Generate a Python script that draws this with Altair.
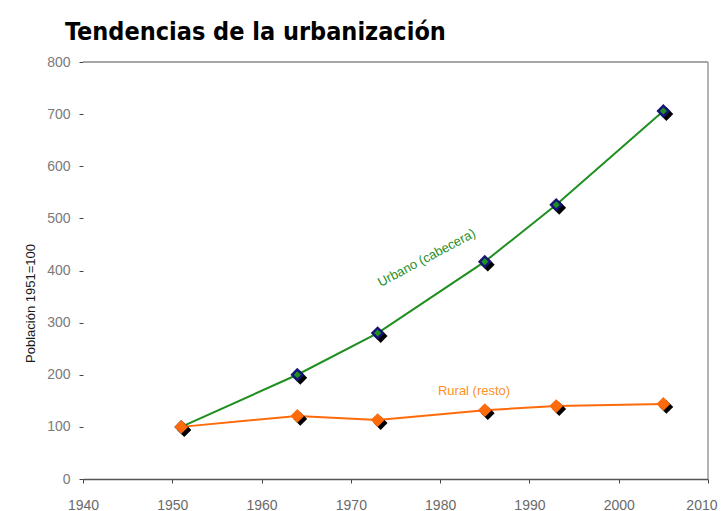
import altair as alt
import pandas as pd

years = [1951, 1964, 1973, 1985, 1993, 2005]
urbano = [100, 200, 280, 417, 526, 706]
rural = [100, 121, 113, 132, 140, 144]

x_ticks = [1940, 1950, 1960, 1970, 1980, 1990, 2000, 2010]
y_ticks = [0, 100, 200, 300, 400, 500, 600, 700, 800]

df_u = pd.DataFrame({"year": years, "value": urbano})
df_r = pd.DataFrame({"year": years, "value": rural})

labels = pd.DataFrame({
    "year": [1978.5, 1983.8],
    "value": [424, 169],
    "text": ["Urbano (cabecera)", "Rural (resto)"],
})

GREEN = "#1f8f1f"
ORANGE = "#ff6a0a"
LABEL_ORANGE = "#ff9020"
NAVY = "#141478"
W, H = 625, 417

x = alt.X("year:Q", scale=alt.Scale(domain=[1940, 2010], nice=False),
          axis=alt.Axis(values=x_ticks, format="d", title=None, grid=False,
                        tickSize=4, labelPadding=15, labelFontSize=14,
                        labelColor="#6a6a6a", domainColor="#555555",
                        domainWidth=1.5, tickColor="#444444",
                        labelAlign=alt.condition("datum.value == 2010",
                                                 alt.value("right"), alt.value("center")),
                        labelOffset=alt.condition("datum.value == 2010",
                                                  alt.value(9), alt.value(0))))
y = alt.Y("value:Q", scale=alt.Scale(domain=[0, 800], nice=False),
          axis=alt.Axis(values=y_ticks, title="Población 1951=100", grid=False,
                        domain=False, tickSize=4, labelPadding=9, labelFontSize=14,
                        labelColor="#7a7a7a", tickColor="#444444",
                        titleFontSize=13, titleFontWeight="normal",
                        titleColor="#1a1a1a", titlePadding=9, titleY=241))

base_u = alt.Chart(df_u)
base_r = alt.Chart(df_r)

line_u = base_u.mark_line(color=GREEN, strokeWidth=2).encode(x=x, y=y)
line_r = base_r.mark_line(color=ORANGE, strokeWidth=2).encode(x=x, y=y)

shadow_u = base_u.mark_point(shape="diamond", filled=True, color="black", size=190,
                             xOffset=3, yOffset=3, opacity=1).encode(x=x, y=y)
shadow_r = base_r.mark_point(shape="diamond", filled=True, color="black", size=190,
                             xOffset=3, yOffset=3, opacity=1).encode(x=x, y=y)

pt_u = base_u.mark_point(shape="diamond", filled=True, color=NAVY, size=190,
                         opacity=1).encode(x=x, y=y)
pt_u_in = base_u.mark_point(shape="diamond", filled=True, color=GREEN, size=50,
                            opacity=1).encode(x=x, y=y)
pt_r = base_r.mark_point(shape="diamond", filled=True, color=ORANGE, size=190,
                         opacity=1).encode(x=x, y=y)

txt_u = alt.Chart(labels.iloc[[0]]).mark_text(color=GREEN, fontSize=13, angle=332,
                                               font="Liberation Sans").encode(
    x=x, y=y, text="text:N")
txt_r = alt.Chart(labels.iloc[[1]]).mark_text(color=LABEL_ORANGE, fontSize=13,
                                               font="Liberation Sans").encode(
    x=x, y=y, text="text:N")

frame = pd.DataFrame({"k": [0]})
top_rule = alt.Chart(frame).mark_rule(color="#8a8a8a", strokeWidth=1.5).encode(
    x=alt.value(0), x2=alt.value(W), y=alt.value(0))
right_rule = alt.Chart(frame).mark_rule(color="#9a9a9a", strokeWidth=1.5).encode(
    x=alt.value(W), y=alt.value(0), y2=alt.value(H))

chart = alt.layer(
    top_rule, right_rule,
    line_u, line_r, shadow_u, shadow_r, pt_u, pt_u_in, pt_r, txt_u, txt_r
).properties(
    width=W,
    height=H,
    title=alt.TitleParams(
        "Tendencias de la urbanización",
        anchor="start", frame="group", dx=-18, offset=10,
        fontSize=25, fontWeight="bold",
        font="DejaVu Sans Condensed, Liberation Sans Narrow, Liberation Sans",
        color="#000000",
    ),
    autosize=alt.AutoSizeParams(type="none"),
    padding={"left": 75, "top": 54, "right": 10, "bottom": 32},
).configure_view(
    stroke=None
).configure_axis(
    labelFont="Liberation Sans", titleFont="Liberation Sans"
)

chart.save("out.html", embed_options={"renderer": "svg", "actions": False})
